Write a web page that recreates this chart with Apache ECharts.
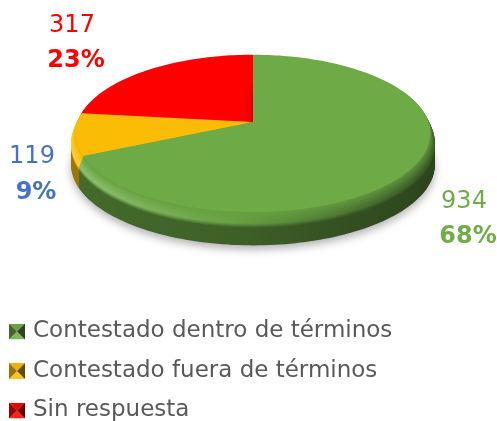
<!DOCTYPE html>
<html>
<head>
<meta charset="utf-8">
<style>
  html, body { margin: 0; padding: 0; background: #fff; }
  #chart { width: 497px; height: 421px; }
</style>
<script src="https://cdn.jsdelivr.net/npm/echarts@6/dist/echarts.min.js"></script>
</head>
<body>
<div id="chart"></div>
<script>
// datos
const categories = ['Contestado dentro de términos', 'Contestado fuera de términos', 'Sin respuesta']
const values = [934, 119, 317]
const sliceColors = ['#6EAB47', '#FBBC05', '#FF0000']
const labelColors = ['#70AD47', '#4472C4', '#FF0000']
// [x, y] del numero y del porcentaje de cada etiqueta
const labelPos = [[464, 202, 468, 237], [32, 157, 36, 193], [72, 26, 76, 61]]

const FONT = '"DejaVu Sans", sans-serif'
// geometria del pastel en perspectiva
const cx = 253, cy = 122, R = 180, A = 79, k = 0.145
const total = values.reduce((a, b) => a + b, 0)

// [desplazamiento y, escala, sombra izq, sombra der] - de abajo hacia arriba
const layers = []
for (let d = 31; d >= 15; d--) layers.push([d, 1, 0.62, 0.4])
for (let d = 14; d >= 10; d--) layers.push([d, 1, 0.62 + (14 - d) * 0.14, 0.4 + (14 - d) * 0.03])
for (let d = 9; d >= 1; d--) {
  const t = (9 - d) / 8
  layers.push([d, 1 - t * 0.022, 1.25 - t * 0.3, 0.52 + t * 0.3])
}
layers.push([0, 0.975, 1, 1])

const shade = (hex, f) => {
  const n = parseInt(hex.slice(1), 16)
  const c = [n >> 16, (n >> 8) & 255, n & 255].map(v => {
    const out = f <= 1 ? v * f : v + (255 - v) * (f - 1)
    return Math.round(out)
  })
  return `rgb(${c[0]},${c[1]},${c[2]})`
}

// angulo en el disco -> punto en pantalla (proyeccion con perspectiva)
const project = (theta, scale, dy) => {
  const u = Math.sin(theta), v = -Math.cos(theta)
  const w = 1 - k * v
  return [cx + scale * R * u / w, cy + dy + scale * A * v / w]
}

const sectorPoints = (a0, a1, scale, dy) => {
  const pts = [[cx, cy + dy]]
  const steps = Math.max(4, Math.ceil((a1 - a0) * 40))
  for (let i = 0; i <= steps; i++) pts.push(project(a0 + (a1 - a0) * i / steps, scale, dy))
  return pts
}

const legendIcon = (color) => {
  const svg = `<svg xmlns="http://www.w3.org/2000/svg" width="16" height="16">` +
    `<polygon points="0,0 16,0 8,8" fill="${shade(color, 0.95)}"/>` +
    `<polygon points="0,16 16,16 8,8" fill="${shade(color, 1.12)}"/>` +
    `<polygon points="0,0 0,16 8,8" fill="${shade(color, 0.6)}"/>` +
    `<polygon points="16,0 16,16 8,8" fill="${shade(color, 0.4)}"/></svg>`
  return 'image://data:image/svg+xml;charset=utf-8,' + encodeURIComponent(svg)
}

const renderSlice = (idx) => (params, api) => {
  const val = api.value(0)
  const before = values.slice(0, idx).reduce((a, b) => a + b, 0)
  const a0 = before / total * Math.PI * 2
  const a1 = (before + val) / total * Math.PI * 2
  const base = sliceColors[idx]
  const children = layers.map((l, i) => {
    const fill = l[2] === l[3] ? shade(base, l[2]) : new echarts.graphic.LinearGradient(cx - R, 0, cx + R, 0, [
      {offset: 0, color: shade(base, l[2])},
      {offset: 0.45, color: shade(base, (l[2] + l[3]) / 2 + 0.05)},
      {offset: 1, color: shade(base, l[3])}
    ], true)
    const style = {fill}
    if (i === 0) {
      style.shadowBlur = 9
      style.shadowColor = 'rgba(0,0,0,0.3)'
      style.shadowOffsetY = 4
    }
    return {type: 'polygon', shape: {points: sectorPoints(a0, a1, l[1], l[0])}, style}
  })
  const p = labelPos[idx]
  children.push({
    type: 'text', x: p[0], y: p[1],
    style: {text: String(val), fill: labelColors[idx], font: `24px ${FONT}`, align: 'center', verticalAlign: 'middle'}
  })
  children.push({
    type: 'text', x: p[2], y: p[3],
    style: {text: Math.round(val / total * 100) + '%', fill: labelColors[idx], font: `bold 24px ${FONT}`, align: 'center', verticalAlign: 'middle'}
  })
  return {type: 'group', children}
}

const chart = echarts.init(document.getElementById('chart'))
chart.setOption({
  backgroundColor: '#fff',
  animation: false,
  legend: {
    orient: 'vertical',
    left: 9,
    top: 320,
    height: 200,
    padding: 0,
    itemWidth: 16,
    itemHeight: 16,
    itemGap: 16.5,
    selectedMode: false,
    textStyle: {color: '#595959', fontFamily: '"DejaVu Sans", sans-serif', fontSize: 23, lineHeight: 20, padding: [0, 0, 0, 3]},
    data: categories.map((name, i) => ({name, icon: legendIcon(sliceColors[i])}))
  },
  series: categories.map((name, i) => ({
    type: 'custom',
    name,
    coordinateSystem: 'none',
    z: 5 - i,
    itemStyle: {color: sliceColors[i]},
    renderItem: renderSlice(i),
    data: [[values[i]]]
  }))
})
</script>
</body>
</html>
